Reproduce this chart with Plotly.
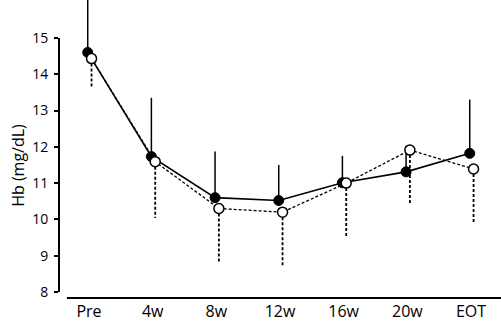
import plotly.graph_objects as go

categories = ["Pre", "4w", "8w", "12w", "16w", "20w", "EOT"]
filled_mean = [14.60, 11.73, 10.60, 10.52, 11.01, 11.31, 11.82]
filled_sd = [1.70, 1.62, 1.27, 0.98, 0.74, 0.72, 1.48]
open_mean = [14.43, 11.59, 10.30, 10.20, 11.00, 11.91, 11.39]
open_sd = [0.81, 1.55, 1.48, 1.48, 1.48, 1.51, 1.47]
y_ticks = [8, 9, 10, 11, 12, 13, 14, 15]
y_title = "Hb (mg/dL)"

idx = list(range(len(categories)))
xf = [i - 0.02 for i in idx]
xo = [i + 0.04 for i in idx]

def seg(xs, ys, ends):
    X, Y = [], []
    for x, y, e in zip(xs, ys, ends):
        X += [x, x, None]
        Y += [y, e, None]
    return X, Y

ef_x, ef_y = seg(xf, filled_mean, [m + s for m, s in zip(filled_mean, filled_sd)])
eo_x, eo_y = seg(xo, open_mean, [m - s for m, s in zip(open_mean, open_sd)])

fig = go.Figure()
fig.add_trace(go.Scatter(x=ef_x, y=ef_y, mode="lines",
                         line=dict(color="black", width=1.5), hoverinfo="skip"))
fig.add_trace(go.Scatter(x=eo_x, y=eo_y, mode="lines",
                         line=dict(color="black", width=1.8, dash="3px,2px"), hoverinfo="skip"))
fig.add_trace(go.Scatter(x=xf, y=filled_mean, mode="lines+markers",
                         line=dict(color="black", width=1.6),
                         marker=dict(size=10, color="black", line=dict(color="black", width=1))))
fig.add_trace(go.Scatter(x=xo, y=open_mean, mode="lines+markers",
                         line=dict(color="black", width=1.3, dash="3px,2px"),
                         marker=dict(size=10, color="white", line=dict(color="black", width=1.5))))

font = "'Open Sans', sans-serif"
fig.update_layout(
    width=501, height=324,
    margin=dict(l=59, r=0, t=0, b=26),
    plot_bgcolor="white", paper_bgcolor="white",
    showlegend=False,
    font=dict(family=font, color="black", size=14),
    xaxis=dict(range=[-0.471, 6.471], tickvals=idx, ticktext=categories,
               showgrid=False, zeroline=False, showline=False, ticks="",
               automargin=False,
               tickfont=dict(size=16), ticklabelstandoff=2),
    yaxis=dict(range=[7.835, 16.044], tickvals=y_ticks,
               showgrid=False, zeroline=False, showline=False,
               ticks="outside", ticklen=4, tickwidth=2, tickcolor="black",
               automargin=False, ticklabelstandoff=3,
               tickfont=dict(size=14)),
    annotations=[
        dict(text=y_title, textangle=-90, xref="paper", yref="y",
             x=-0.093, y=(y_ticks[0] + y_ticks[-1]) / 2,
             xanchor="center", yanchor="middle", showarrow=False,
             font=dict(size=16)),
    ],
    shapes=[
        dict(type="line", xref="paper", yref="y", x0=0, x1=0,
             y0=y_ticks[0], y1=y_ticks[-1],
             line=dict(color="black", width=2)),
        dict(type="line", xref="paper", yref="paper", x0=0.018, x1=1, y0=0, y1=0,
             line=dict(color="black", width=2)),
    ],
)
fig.write_html("out.html", config={"displayModeBar": False},
               post_script="document.body.style.margin='0';document.body.style.overflow='hidden';")
